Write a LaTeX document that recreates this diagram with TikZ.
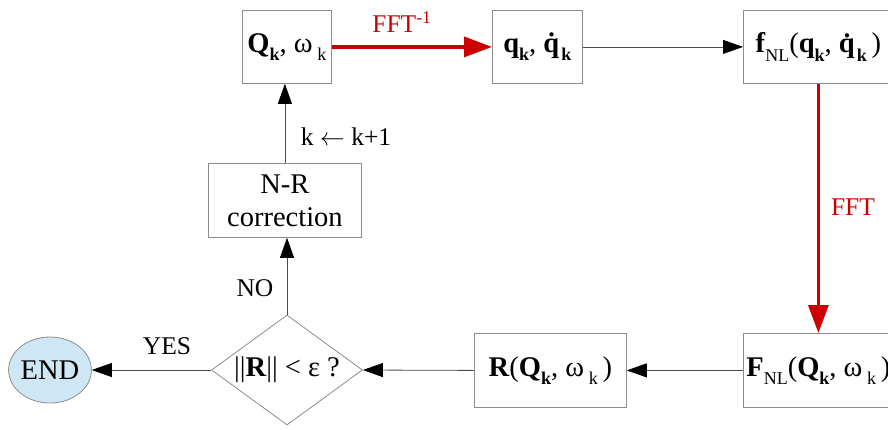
\documentclass[tikz,border=0pt]{standalone}
\usepackage{fontspec}
\setmainfont{Liberation Serif}
\usetikzlibrary{arrows.meta,shapes.geometric}
\definecolor{fftred}{RGB}{204,0,0}
\definecolor{endblue}{RGB}{207,231,245}
\newcommand\lowsub[1]{\raisebox{-0.3em}{\fontsize{18}{18}\selectfont #1}}
\begin{document}
\begin{tikzpicture}[x=1pt,y=-1pt,
  txt/.style={font=\fontsize{28.5}{32}\selectfont},
  lbl/.style={font=\fontsize{25.5}{29}\selectfont},
  boxnode/.style={txt,draw=black!45,line width=0.8pt,inner sep=0pt,anchor=north west,minimum width=#1,minimum height=73pt},
  conn/.style={draw=black!70,line width=0.8pt,-{Triangle[length=20pt,width=14pt,black]}},
  redconn/.style={draw=fftred,line width=3.2pt,-{Triangle[length=28pt,width=20pt]}}]
\useasboundingbox (0,0) rectangle (888,429);
\clip (0,0) rectangle (888,429);
\node[boxnode=89pt] (qw) at (242,10) {\textbf{Q}\lowsub{\textbf{k}}, ω\,\lowsub{k}};
\node[boxnode=90pt] (qq) at (492,10) {\textbf{q}\lowsub{\textbf{k}}, \textbf{\.q}\lowsub{\textbf{k}}};
\node[boxnode=150pt] (fnl) at (743,10) {\textbf{f}\lowsub{NL}(\textbf{q}\lowsub{\textbf{k}}, \textbf{\.q}\lowsub{\textbf{k}}\,)};
\node[boxnode=150pt,minimum height=74pt] (FNL) at (743,333) {\textbf{F}\lowsub{NL}(\textbf{Q}\lowsub{\textbf{k}}, ω\,\lowsub{k}\,)};
\node[boxnode=152pt,minimum height=74pt] (R) at (474,333) {\textbf{R}(\textbf{Q}\lowsub{\textbf{k}}, ω\,\lowsub{k}\,)};
\node[boxnode=153pt,minimum height=74pt,align=center,font=\fontsize{28.5}{33}\selectfont] (NR) at (208,163) {N-R\\correction};
\node[txt,diamond,draw=black!45,line width=0.8pt,inner sep=0pt,aspect=1.36,minimum width=151pt,minimum height=110pt] (dec) at (287,370) {||\textbf{R}|| < ε ?};
\node[txt,ellipse,draw=black!45,fill=endblue,line width=0.8pt,inner sep=0pt,minimum width=80pt,minimum height=66pt] (end) at (50,370) {END};
\draw[redconn] (qw.east) -- (qq.west);
\draw[conn] (qq.east) -- (fnl.west);
\draw[redconn] (fnl.south) -- (FNL.north);
\draw[conn] (FNL.west) -- (R.east);
\draw[conn] (R.west) -- (dec.east);
\draw[conn] (dec.west) -- (end.east);
\draw[conn] (dec.north) -- (dec.north |- NR.south);
\draw[conn] (NR.north) -- (NR.north |- qw.south);
\node[lbl,text=fftred] (lfft1) at (402,22) {FFT\textsuperscript{-1}};
\node[lbl,text=fftred] (lfft2) at (853,207) {FFT};
\node[lbl] (lk) at (346,137) {k \ensuremath{\leftarrow} k+1};
\node[lbl] (lno) at (255,288) {NO};
\node[lbl] (lyes) at (167,346) {YES};
\end{tikzpicture}
\end{document}
